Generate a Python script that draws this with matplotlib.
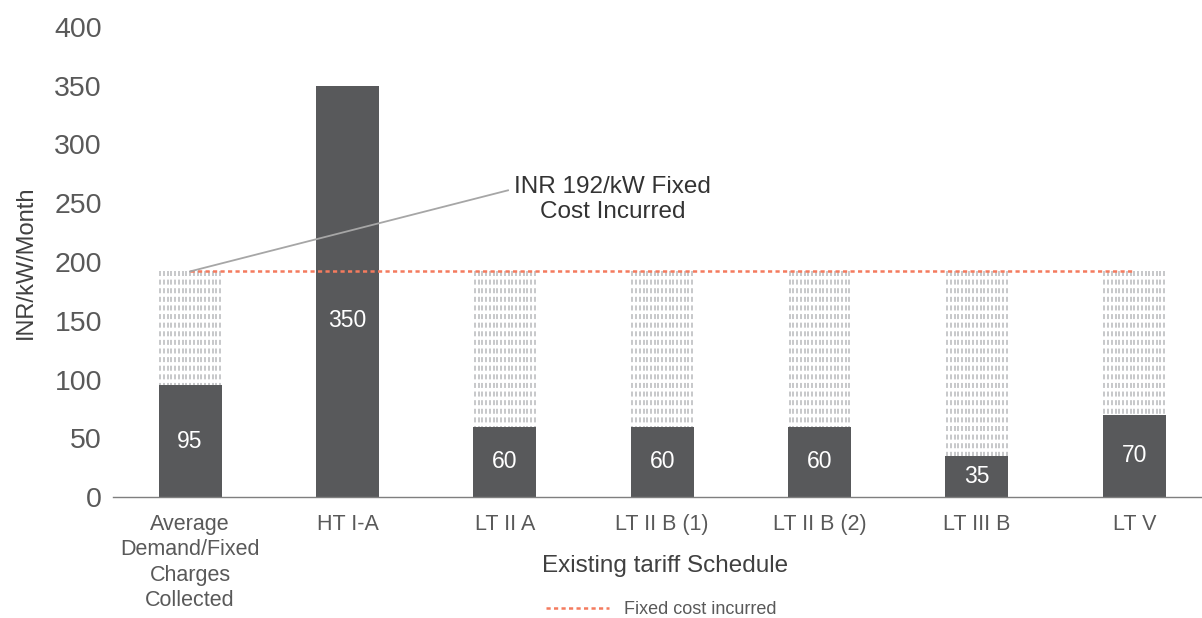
import numpy as np
import matplotlib
matplotlib.use('Agg')
import matplotlib.pyplot as plt

# chart data
categories = ['Average\nDemand/Fixed\nCharges\nCollected', 'HT I-A', 'LT II A',
              'LT II B (1)', 'LT II B (2)', 'LT III B', 'LT V']
collected = [95, 350, 60, 60, 60, 35, 70]
fixed_cost = 192
yticks = [0, 50, 100, 150, 200, 250, 300, 350, 400]

# colours
bar_col = '#58595b'
hatch_col = '#b8b9bc'
red = '#f47b5e'
text_col = '#595959'

plt.rcParams['font.family'] = ['Liberation Sans', 'DejaVu Sans']
plt.rcParams['lines.scale_dashes'] = False

fig = plt.figure(figsize=(12.02, 6.18), dpi=100)
ax = fig.add_axes([113 / 1202, 121 / 618, 1 - 113 / 1202, (497 - 27) / 618])

x = np.arange(len(categories))
w = 0.4

# gap between collected and the fixed cost, drawn as dashed columns
for xi, v in zip(x, collected):
    if v < fixed_cost:
        cols = np.linspace(xi - w / 2 + 0.01, xi + w / 2 - 0.01, 17)
        ax.vlines(cols, fixed_cost, v, colors=hatch_col, lw=1.1,
                  linestyles=[(0, (3.6, 2.6))], zorder=1)

ax.bar(x, collected, width=w, color=bar_col, zorder=2)

# value labels inside the bars
for xi, v in zip(x, collected):
    ax.text(xi, min(v, 300) / 2, str(v), color='white', fontsize=16.5,
            ha='center', va='center', zorder=3)

# fixed cost line
ax.plot(x, [fixed_cost] * len(x), color=red, lw=1.8,
        linestyle=(0, (3.0, 2.4)), zorder=4, label='Fixed cost incurred')

# callout
ax.plot([0, 2.02], [fixed_cost, 261], color='#a6a6a6', lw=1.3, zorder=4)
ax.text(2.685, 253, 'INR 192/kW Fixed\nCost Incurred', fontsize=17.5,
        color='#333333', ha='center', va='center', linespacing=1.2)

ax.set_xlim(-0.49, 6.43)
ax.set_ylim(0, 400)
ax.set_yticks(yticks)
ax.set_xticks(x)
ax.set_xticklabels(categories, fontsize=15.5, color=text_col, linespacing=1.28)
ax.tick_params(axis='y', length=0, pad=8, labelsize=20.5, labelcolor=text_col)
ax.tick_params(axis='x', length=0, pad=12)
for s in ['top', 'right', 'left']:
    ax.spines[s].set_visible(False)
ax.spines['bottom'].set_color('#7f7f7f')
ax.spines['bottom'].set_linewidth(1.0)

ax.set_ylabel('INR/kW/Month', fontsize=17, color='#404040')
ax.yaxis.set_label_coords((37 - 113) / 1089, 0.5)
ax.set_xlabel('Existing tariff Schedule', fontsize=17.5, color='#404040')
ax.xaxis.set_label_coords((665 - 113) / 1089, (497 - 555) / 470)

fig.legend(loc='center', bbox_to_anchor=(661 / 1202, 1 - 610 / 618),
           frameon=False, fontsize=13, handlelength=3.5,
           labelcolor=text_col)

fig.savefig('out.png', dpi=100)
